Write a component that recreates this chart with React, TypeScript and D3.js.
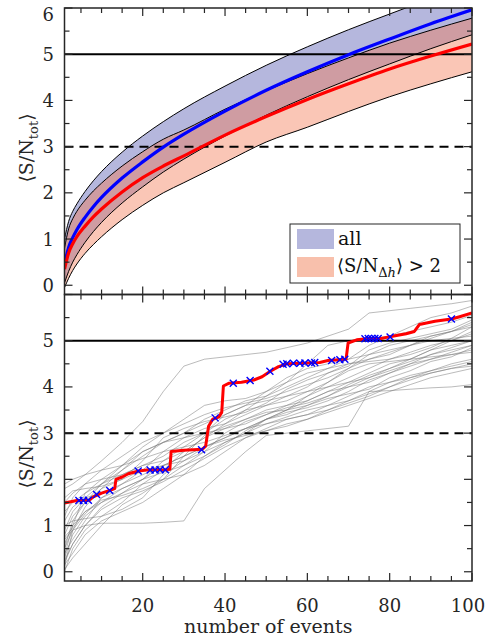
import React from "react";
import * as d3 from "d3";

// ---------- data ----------
const X_BAND = [1, 2, 3, 4, 6, 8, 10, 15, 20, 25, 30, 40, 50, 60, 70, 80, 90, 100];
const BLUE_MEAN = [0.45, 0.82, 1.03, 1.2, 1.47, 1.7, 1.9, 2.32, 2.67, 2.99, 3.27, 3.77, 4.22, 4.62, 4.99, 5.33, 5.66, 5.96];
const BLUE_HI = [1.0, 1.38, 1.6, 1.76, 2.03, 2.26, 2.46, 2.88, 3.23, 3.54, 3.82, 4.31, 4.76, 5.16, 5.53, 5.87, 6.2, 6.5];
const BLUE_LO = [0.05, 0.3, 0.5, 0.66, 0.93, 1.16, 1.36, 1.78, 2.13, 2.45, 2.73, 3.23, 3.68, 4.08, 4.45, 4.79, 5.12, 5.42];
const RED_MEAN = [0.35, 0.7, 0.9, 1.05, 1.28, 1.48, 1.65, 2.02, 2.33, 2.58, 2.8, 3.25, 3.65, 4.02, 4.36, 4.68, 4.96, 5.22];
const RED_HI = [0.8, 1.22, 1.44, 1.6, 1.84, 2.04, 2.21, 2.58, 2.89, 3.16, 3.36, 3.81, 4.21, 4.58, 4.92, 5.24, 5.52, 5.78];
const RED_LO = [-0.05, 0.15, 0.32, 0.46, 0.69, 0.88, 1.05, 1.42, 1.73, 2.0, 2.22, 2.66, 3.1, 3.42, 3.76, 4.08, 4.36, 4.62];

const X_GRAY = [1, 3, 6, 10, 15, 20, 25, 30, 35, 40, 45, 50, 55, 60, 65, 70, 75, 80, 85, 90, 95, 100];
const GRAY_RUNS = [
  [1.8, 1.9, 2.1, 2.4, 2.8, 3.25, 3.9, 4.45, 4.6, 4.65, 4.7, 4.75, 4.85, 4.95, 5.1, 5.25, 5.6, 5.65, 5.7, 5.75, 5.8, 5.87],
  [1.2, 1.6, 1.9, 2.2, 2.5, 2.8, 3.0, 3.3, 3.6, 3.7, 3.75, 3.9, 4.1, 4.5, 4.9, 5.0, 5.05, 5.1, 5.3, 5.5, 5.6, 5.75],
  [0.1, 0.9, 1.4, 1.8, 2.2, 2.5, 2.8, 3.0, 3.3, 3.5, 3.7, 3.8, 4.0, 4.2, 4.4, 4.6, 4.9, 5.1, 5.2, 5.3, 5.4, 5.55],
  [0.5, 1.1, 1.5, 1.9, 2.1, 2.3, 2.5, 2.8, 3.0, 3.3, 3.5, 3.6, 3.8, 4.0, 4.3, 4.5, 4.6, 4.7, 4.9, 5.1, 5.2, 5.3],
  [0.9, 1.3, 1.6, 1.7, 1.9, 2.2, 2.6, 2.9, 3.1, 3.2, 3.4, 3.6, 3.7, 3.9, 4.1, 4.4, 4.7, 4.8, 4.9, 5.0, 5.05, 5.1],
  [0.0, 0.5, 0.9, 1.2, 1.5, 1.9, 2.2, 2.6, 2.9, 3.1, 3.3, 3.5, 3.6, 3.7, 3.9, 4.0, 4.2, 4.4, 4.6, 4.8, 4.9, 5.0],
  [1.0, 1.1, 1.15, 1.2, 1.35, 1.6, 2.1, 2.4, 2.7, 2.9, 3.1, 3.3, 3.4, 3.6, 3.8, 4.0, 4.1, 4.3, 4.5, 4.7, 4.8, 4.9],
  [0.7, 0.9, 1.0, 1.05, 1.05, 1.05, 1.07, 1.1, 1.8, 2.2, 2.6, 2.95, 3.0, 3.05, 3.1, 3.15, 3.9, 3.92, 3.95, 3.98, 4.0, 4.05],
  [0.3, 0.8, 1.2, 1.5, 1.8, 2.0, 2.3, 2.5, 2.7, 2.9, 3.1, 3.2, 3.35, 3.5, 3.6, 3.7, 3.85, 4.0, 4.15, 4.3, 4.4, 4.5],
  [1.5, 1.7, 1.9, 2.0, 2.1, 2.3, 2.4, 2.6, 2.9, 3.2, 3.5, 3.8, 4.1, 4.3, 4.4, 4.5, 4.55, 4.6, 4.75, 4.9, 5.0, 5.2],
  [0.2, 0.6, 1.0, 1.4, 1.7, 1.9, 2.0, 2.1, 2.3, 2.6, 2.9, 3.1, 3.3, 3.4, 3.5, 3.65, 3.8, 4.0, 4.2, 4.35, 4.5, 4.6],
  [0.8, 1.2, 1.5, 1.8, 2.0, 2.2, 2.3, 2.4, 2.6, 2.8, 3.0, 3.3, 3.5, 3.7, 3.9, 4.1, 4.3, 4.5, 4.6, 4.8, 5.0, 5.15],
  [1.9, 2.0, 2.1, 2.2, 2.3, 2.45, 2.6, 2.7, 2.8, 2.95, 3.1, 3.3, 3.5, 3.8, 4.1, 4.35, 4.5, 4.55, 4.6, 4.65, 4.7, 4.8],
  [0.4, 0.7, 1.1, 1.6, 1.9, 2.1, 2.3, 2.5, 2.7, 2.85, 2.95, 3.05, 3.2, 3.3, 3.5, 3.7, 3.9, 4.1, 4.25, 4.35, 4.45, 4.55],
  [0.6, 1.0, 1.3, 1.5, 1.7, 2.0, 2.4, 2.7, 3.0, 3.4, 3.6, 3.7, 3.8, 3.9, 4.0, 4.1, 4.2, 4.35, 4.5, 4.6, 4.75, 4.9],
  [1.3, 1.5, 1.7, 1.9, 2.2, 2.6, 2.8, 2.9, 3.0, 3.1, 3.2, 3.4, 3.6, 3.8, 4.0, 4.2, 4.4, 4.6, 4.7, 4.85, 5.05, 5.3],
  [0.15, 0.4, 0.8, 1.1, 1.3, 1.5, 1.8, 2.1, 2.5, 2.8, 3.0, 3.2, 3.3, 3.4, 3.6, 3.8, 4.0, 4.1, 4.2, 4.3, 4.4, 4.45],
  [1.1, 1.4, 1.6, 1.9, 2.3, 2.6, 2.8, 3.0, 3.2, 3.4, 3.6, 3.9, 4.2, 4.4, 4.5, 4.6, 4.7, 4.9, 5.0, 5.1, 5.2, 5.35],
  [0.5, 0.9, 1.25, 1.6, 1.8, 2.0, 2.15, 2.3, 2.5, 2.75, 3.05, 3.3, 3.45, 3.55, 3.7, 3.9, 4.15, 4.3, 4.45, 4.6, 4.7, 4.75],
  [0.25, 0.6, 1.0, 1.35, 1.6, 1.75, 1.95, 2.2, 2.45, 2.7, 2.9, 3.05, 3.15, 3.3, 3.45, 3.6, 3.75, 3.9, 4.05, 4.2, 4.3, 4.4],
  [0.35, 1.0, 1.7, 2.0, 2.3, 2.7, 3.0, 3.2, 3.4, 3.55, 3.65, 3.75, 3.9, 4.05, 4.2, 4.4, 4.6, 4.75, 4.9, 5.05, 5.2, 5.4],
  [0.75, 0.95, 1.3, 1.55, 1.65, 1.8, 2.0, 2.5, 2.95, 3.15, 3.3, 3.45, 3.5, 3.6, 3.75, 3.85, 3.95, 4.2, 4.35, 4.55, 4.65, 4.85],
  [1.6, 1.75, 1.8, 1.85, 2.0, 2.4, 2.9, 3.1, 3.25, 3.35, 3.45, 3.65, 3.95, 4.15, 4.3, 4.45, 4.8, 4.95, 5.05, 5.15, 5.25, 5.45],
  [0.05, 0.3, 0.6, 1.0, 1.45, 1.7, 2.0, 2.3, 2.6, 3.0, 3.25, 3.4, 3.55, 3.65, 3.8, 4.05, 4.25, 4.4, 4.55, 4.7, 4.85, 5.0],
];

const RUN_X = [1, 4, 7, 8, 10, 12, 13.2, 13.5, 15, 16.5, 19, 21, 26, 26.6, 26.9, 30, 34.5, 35.3, 36, 37, 38.5, 39.2, 39.6, 41, 44, 47, 49, 51, 53, 55, 60, 63, 65, 69.4, 69.9, 72, 75, 78, 81, 84, 86, 87.2, 91, 95, 97, 100];
const RUN_Y = [1.49, 1.54, 1.55, 1.62, 1.7, 1.76, 1.8, 2.0, 2.05, 2.12, 2.18, 2.2, 2.21, 2.22, 2.6, 2.63, 2.65, 2.72, 3.15, 3.3, 3.35, 3.45, 4.02, 4.08, 4.1, 4.15, 4.22, 4.34, 4.44, 4.5, 4.52, 4.53, 4.57, 4.6, 4.95, 5.02, 5.05, 5.05, 5.1, 5.15, 5.2, 5.35, 5.42, 5.47, 5.52, 5.6];

const MARK_X = [4.5, 5.6, 6.8, 8.8, 12, 18.9, 21.8, 23, 24.2, 25.5, 34.3, 37.6, 42, 46.1, 50.9, 54.1, 55, 56.6, 58.2, 59.4, 61, 61.8, 65.9, 67.9, 69.1, 74, 74.8, 75.6, 76.4, 77.2, 80.1, 95];
const MARK_Y = [1.54, 1.54, 1.55, 1.67, 1.76, 2.18, 2.2, 2.2, 2.21, 2.21, 2.64, 3.33, 4.08, 4.14, 4.34, 4.49, 4.5, 4.51, 4.51, 4.52, 4.52, 4.53, 4.57, 4.59, 4.6, 5.04, 5.05, 5.05, 5.05, 5.05, 5.08, 5.47];

const X_TICKS = [20, 40, 60, 80, 100];
const Y_TICKS = [0, 1, 2, 3, 4, 5, 6];
const SOLID_LEVEL = 5;
const DASHED_LEVEL = 3;

// ---------- layout ----------
const W = 485;
const H = 641;
const LEFT = 64.5;
const RIGHT = 472;
const FONT = "\"DejaVu Serif\", \"Liberation Serif\", serif";
const AX = "#262626";
const TXT: React.CSSProperties = { fontFamily: FONT };

const x = d3.scaleLinear().domain([1, 100]).range([LEFT, RIGHT]);
const yTop = d3.scaleLinear().domain([-0.2, 6]).range([294.5, 8]);
const yBot = d3.scaleLinear().domain([-0.2, 6]).range([581, 294.5]);

function Frame({ y, showXLabels, yLabels }: { y: d3.ScaleLinear<number, number>; showXLabels: boolean; yLabels: number[] }) {
  const [y0, y1] = y.range();
  const top = Math.min(y0, y1);
  const bot = Math.max(y0, y1);
  const minorX = d3.range(5, 100, 5).filter((v) => !X_TICKS.includes(v));
  const minorY = d3.range(0, 6.01, 0.5).filter((v) => !Y_TICKS.includes(v));
  const els: React.ReactNode[] = [];
  const tk = (k: string, x1: number, y1: number, x2: number, y2: number) => (
    <line key={k} x1={x1} y1={y1} x2={x2} y2={y2} stroke={AX} strokeWidth={1.2} />
  );
  X_TICKS.forEach((v) => {
    els.push(tk("xt" + v, x(v), bot, x(v), bot - 8));
    els.push(tk("xT" + v, x(v), top, x(v), top + 8));
  });
  minorX.forEach((v) => {
    els.push(tk("xm" + v, x(v), bot, x(v), bot - 5));
    els.push(tk("xM" + v, x(v), top, x(v), top + 5));
  });
  Y_TICKS.forEach((v) => {
    els.push(tk("yt" + v, LEFT, y(v), LEFT + 8, y(v)));
    els.push(tk("yT" + v, RIGHT, y(v), RIGHT - 8, y(v)));
  });
  minorY.forEach((v) => {
    els.push(tk("ym" + v, LEFT, y(v), LEFT + 5, y(v)));
    els.push(tk("yM" + v, RIGHT, y(v), RIGHT - 5, y(v)));
  });
  return (
    <g>
      {els}
      <rect x={LEFT} y={top} width={RIGHT - LEFT} height={bot - top} fill="none" stroke={AX} strokeWidth={1.5} />
      {yLabels.map((v) => (
        <text key={"yl" + v} x={54} y={Math.max(y(v) + 6.5, 20.5)} textAnchor="end" fontSize={18} style={TXT} fill={AX}>
          {v}
        </text>
      ))}
      {showXLabels &&
        X_TICKS.map((v) => (
          <text key={"xl" + v} x={v === 100 ? x(v) - 4 : x(v)} y={612} textAnchor="middle" fontSize={18} style={TXT} fill={AX}>
            {v}
          </text>
        ))}
    </g>
  );
}

function YLabel({ cy }: { cy: number }) {
  return (
    <text transform={`translate(33,${cy}) rotate(-90)`} textAnchor="middle" fontSize={19} style={TXT} fill={AX}>
      ⟨S/N<tspan fontSize={13} dy={5}>tot</tspan>
      <tspan dy={-5}>⟩</tspan>
    </text>
  );
}

function HLines({ y }: { y: d3.ScaleLinear<number, number> }) {
  return (
    <g>
      <line x1={LEFT} x2={RIGHT} y1={y(SOLID_LEVEL)} y2={y(SOLID_LEVEL)} stroke="#000" strokeWidth={2} />
      <line x1={LEFT} x2={RIGHT} y1={y(DASHED_LEVEL)} y2={y(DASHED_LEVEL)} stroke="#000" strokeWidth={2} strokeDasharray="9,6" />
    </g>
  );
}

export default function App() {
  const idx = X_BAND.map((_, i) => i);
  const area = (lo: number[], hi: number[]) =>
    d3
      .area<number>()
      .x((i) => x(X_BAND[i]))
      .y0((i) => yTop(lo[i]))
      .y1((i) => yTop(hi[i]))
      .curve(d3.curveMonotoneX)(idx) || "";
  const line = (vals: number[]) =>
    d3
      .line<number>()
      .x((i) => x(X_BAND[i]))
      .y((i) => yTop(vals[i]))
      .curve(d3.curveMonotoneX)(idx) || "";
  const grayLine = d3
    .line<number>()
    .x((_, i) => x(X_GRAY[i]))
    .y((v) => yBot(v));
  const runLine =
    d3
      .line<number>()
      .x((i) => x(RUN_X[i]))
      .y((i) => yBot(RUN_Y[i]))(RUN_X.map((_, i) => i)) || "";

  return (
    <svg width={W} height={H} style={{ position: "absolute", left: 0, top: 0, background: "#fff" }}>
      <defs>
        <clipPath id="clipTop">
          <rect x={LEFT} y={8} width={RIGHT - LEFT} height={294.5 - 8} />
        </clipPath>
        <clipPath id="clipBot">
          <rect x={LEFT} y={294.5} width={RIGHT - LEFT} height={581 - 294.5} />
        </clipPath>
      </defs>

      {/* top panel */}
      <g clipPath="url(#clipTop)">
        <path d={area(BLUE_LO, BLUE_HI)} fill="rgb(181,183,221)" />
        <path d={area(RED_LO, RED_HI)} fill="rgb(242,120,80)" fillOpacity={0.42} />
        {[BLUE_HI, BLUE_LO, RED_HI, RED_LO].map((v, k) => (
          <path key={k} d={line(v)} fill="none" stroke="#000" strokeWidth={1} />
        ))}
        <HLines y={yTop} />
        <path d={line(BLUE_MEAN)} fill="none" stroke="#0000ff" strokeWidth={3.2} />
        <path d={line(RED_MEAN)} fill="none" stroke="#ff0000" strokeWidth={3.2} />
      </g>
      <Frame y={yTop} showXLabels={false} yLabels={Y_TICKS} />
      <YLabel cy={148} />

      {/* legend */}
      <g>
        <rect x={290} y={224} width={170} height={59} fill="#fff" stroke={AX} strokeWidth={1} />
        <rect x={297} y={229} width={37} height={20} fill="rgb(181,183,221)" />
        <rect x={297} y={257} width={37} height={20} fill="rgb(248,192,172)" />
        <text x={338} y={245} fontSize={19} style={TXT} fill="#111">all</text>
        <text x={337} y={272} fontSize={18} style={TXT} fill="#111">
          ⟨S/N<tspan fontSize={13} dy={5}>Δ</tspan>
          <tspan fontSize={13} fontStyle="italic">h</tspan>
          <tspan dy={-5}>⟩ &gt; 2</tspan>
        </text>
      </g>

      {/* bottom panel */}
      <g clipPath="url(#clipBot)">
        {GRAY_RUNS.map((run, k) => (
          <path key={k} d={grayLine(run) || ""} fill="none" stroke="rgb(120,120,120)" strokeOpacity={0.5} strokeWidth={1} />
        ))}
        <HLines y={yBot} />
        <path d={runLine} fill="none" stroke="#ff0000" strokeWidth={3} strokeLinejoin="round" />
        {MARK_X.map((mx, i) => {
          const cx = x(mx);
          const cy = yBot(MARK_Y[i]);
          const s = 3.5;
          return (
            <path
              key={i}
              d={`M${cx - s},${cy - s}L${cx + s},${cy + s}M${cx - s},${cy + s}L${cx + s},${cy - s}`}
              stroke="#0000ff"
              strokeWidth={1.4}
            />
          );
        })}
      </g>
      <Frame y={yBot} showXLabels={true} yLabels={Y_TICKS.filter((v) => v < 6)} />
      <YLabel cy={454} />
      <text x={(LEFT + RIGHT) / 2} y={633} textAnchor="middle" fontSize={19} style={TXT} fill={AX}>
        number of events
      </text>
    </svg>
  );
}
